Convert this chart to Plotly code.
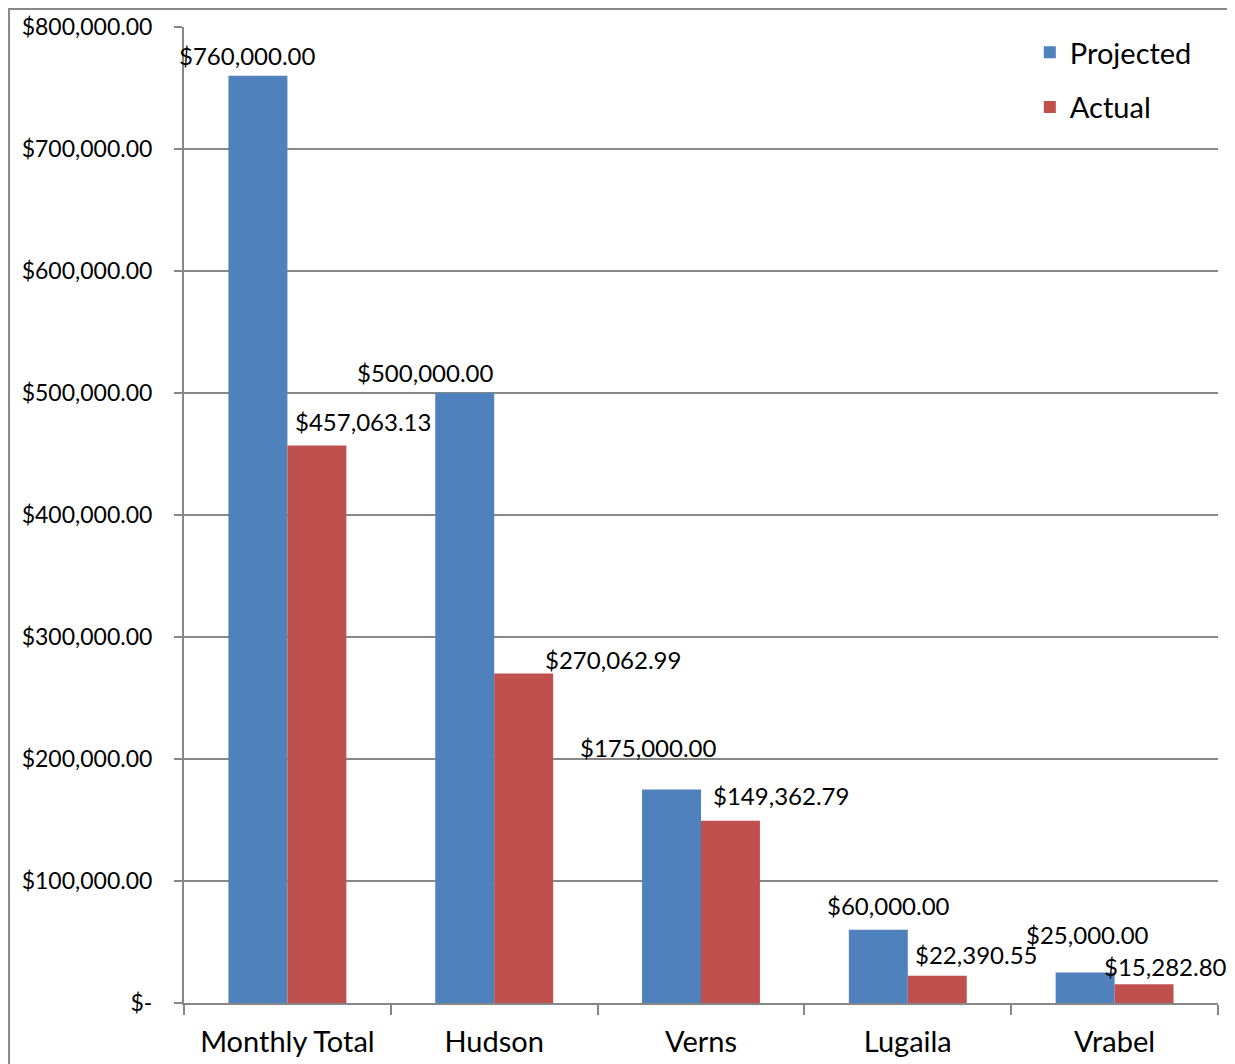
import plotly.graph_objects as go

categories = ["Monthly Total", "Hudson", "Verns", "Lugaila", "Vrabel"]
projected = [760000.00, 500000.00, 175000.00, 60000.00, 25000.00]
actual = [457063.13, 270062.99, 149362.79, 22390.55, 15282.80]
y_tickvals = [0, 100000, 200000, 300000, 400000, 500000, 600000, 700000, 800000]
y_ticktext = ["$-", "$100,000.00", "$200,000.00", "$300,000.00", "$400,000.00",
              "$500,000.00", "$600,000.00", "$700,000.00", "$800,000.00"]

# label offsets (pixels) - styling only
proj_xshift = [-40, -69, -53, -19, -27]
proj_yshift = [20, 21, 42, 24, 38]
act_xshift = [76, 119, 80, 68, 51]
act_yshift = [24, 14, 25, 21, 18]

BLUE = "#4F81BD"
RED = "#C0504D"
GRID = "#878787"
FONT = "Lato"

fig = go.Figure()
fig.add_trace(go.Bar(name="Projected", x=categories, y=projected, legendgroup="p",
                     marker=dict(color=BLUE, line=dict(width=0))))
fig.add_trace(go.Bar(name="Actual", x=categories, y=actual, legendgroup="a",
                     marker=dict(color=RED, line=dict(width=0))))

def money(v):
    return "${:,.2f}".format(v)

annotations = []
for c, v, xs, ys in zip(categories, projected, proj_xshift, proj_yshift):
    annotations.append(dict(x=c, y=v, text=money(v), showarrow=False, xshift=xs, yshift=ys,
                            yanchor="middle", xanchor="center", font=dict(family=FONT, size=24, color="black")))
for c, v, xs, ys in zip(categories, actual, act_xshift, act_yshift):
    annotations.append(dict(x=c, y=v, text=money(v), showarrow=False, xshift=xs, yshift=ys,
                            yanchor="middle", xanchor="center", font=dict(family=FONT, size=24, color="black")))

fig.update_layout(
    width=1235, height=1064,
    margin=dict(l=176, r=25, t=19, b=69, autoexpand=False),
    paper_bgcolor="white", plot_bgcolor="white",
    barmode="group", bargap=0.43, bargroupgap=0,
    font=dict(family=FONT, size=23, color="black"),
    annotations=annotations,
    legend=dict(x=0.818, y=1.0, xanchor="left", yanchor="top",
                font=dict(family=FONT, size=29, color="black"),
                bgcolor="rgba(0,0,0,0)", tracegroupgap=14, itemwidth=30),
    showlegend=True,
    shapes=[dict(type="rect", xref="paper", yref="paper", x0=-0.1692, x1=1.05, y0=-0.1, y1=1.0184,
                 line=dict(color=GRID, width=2), fillcolor="rgba(0,0,0,0)", layer="below")],
)
fig.update_xaxes(
    range=[-0.5, len(categories) - 0.5], autorange=False,
    showline=True, linecolor=GRID, linewidth=2,
    ticks="outside", tickson="boundaries", ticklen=10, tickcolor=GRID, tickwidth=2,
    tickfont=dict(family=FONT, size=29, color="black"), ticklabelstandoff=12,
    showgrid=False, zeroline=False,
)
fig.update_yaxes(
    range=[0, 800000], autorange=False, tickvals=y_tickvals, ticktext=y_ticktext,
    showline=True, linecolor=GRID, linewidth=2,
    ticks="outside", ticklen=8, tickcolor=GRID, tickwidth=2,
    tickfont=dict(family=FONT, size=23, color="black"), ticklabelstandoff=17,
    showgrid=True, gridcolor=GRID, gridwidth=2, zeroline=False,
)

fig.write_html("out.html")
